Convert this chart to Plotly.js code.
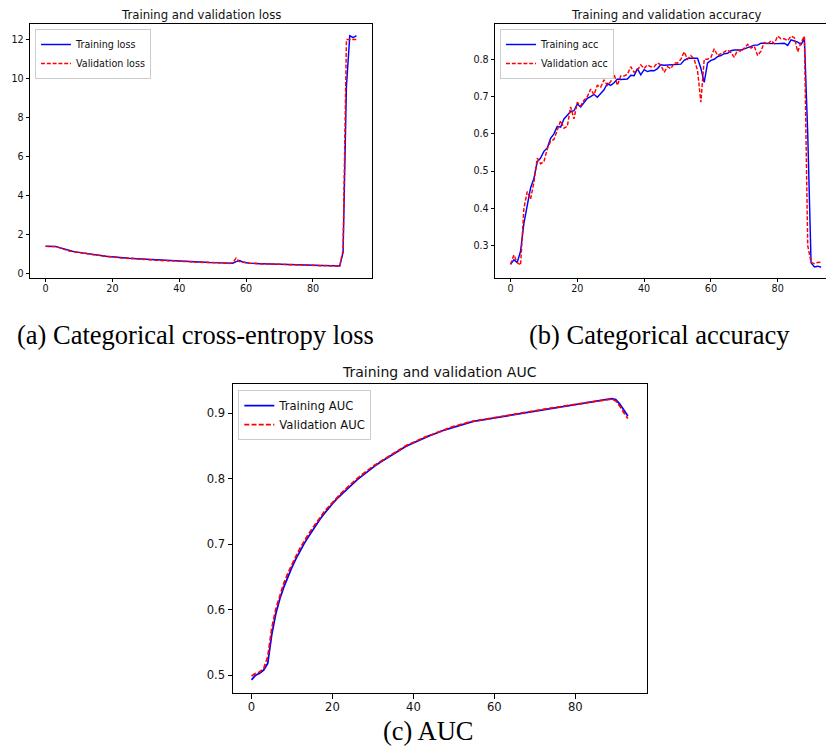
<!DOCTYPE html>
<html>
<head>
<meta charset="utf-8">
<script src="https://cdn.plot.ly/plotly-3.0.1.min.js"></script>
<style>html,body{margin:0;padding:0;background:#fff;}#chart{width:826px;height:747px;}</style>
</head>
<body>
<div id="chart"></div>
<script>
const epochs = [0,1,2,3,4,5,6,7,8,9,10,11,12,13,14,15,16,17,18,19,20,21,22,23,24,25,26,27,28,29,30,31,32,33,34,35,36,37,38,39,40,41,42,43,44,45,46,47,48,49,50,51,52,53,54,55,56,57,58,59,60,61,62,63,64,65,66,67,68,69,70,71,72,73,74,75,76,77,78,79,80,81,82,83,84,85,86,87,88,89,90,91,92,93];

const trainLoss = [1.386,1.385,1.384,1.375,1.330,1.270,1.210,1.170,1.130,1.100,
  1.070,1.050,1.020,0.990,0.960,0.940,0.920,0.900,0.880,0.860,
  0.845,0.830,0.815,0.800,0.785,0.775,0.765,0.755,0.745,0.725,
  0.715,0.705,0.695,0.685,0.675,0.665,0.655,0.645,0.635,0.630,
  0.620,0.610,0.605,0.600,0.590,0.580,0.575,0.570,0.560,0.555,
  0.550,0.545,0.535,0.530,0.525,0.520,0.520,0.600,0.660,0.580,
  0.530,0.520,0.510,0.505,0.500,0.490,0.485,0.480,0.475,0.470,
  0.465,0.460,0.455,0.450,0.445,0.440,0.435,0.430,0.425,0.420,
  0.415,0.410,0.405,0.400,0.395,0.390,0.385,0.380,0.375,1.070,
  9.600,12.200,12.100,12.200];
const valLoss = [1.383,1.382,1.383,1.370,1.320,1.250,1.220,1.150,1.140,1.080,
  1.080,1.030,1.030,0.980,0.970,0.930,0.930,0.880,0.890,0.850,
  0.850,0.820,0.820,0.780,0.790,0.760,0.770,0.740,0.740,0.710,
  0.720,0.690,0.700,0.670,0.680,0.650,0.660,0.630,0.650,0.620,
  0.630,0.600,0.610,0.590,0.600,0.570,0.590,0.560,0.570,0.550,
  0.560,0.540,0.550,0.520,0.530,0.500,0.550,0.780,0.600,0.560,
  0.520,0.510,0.520,0.500,0.510,0.480,0.490,0.470,0.480,0.460,
  0.470,0.450,0.460,0.440,0.460,0.430,0.440,0.420,0.410,0.420,
  0.400,0.410,0.390,0.380,0.400,0.380,0.400,0.380,0.370,1.200,
  12.000,12.000,12.000,12.000];

const trainAcc = [0.250,0.262,0.255,0.285,0.360,0.410,0.455,0.480,0.525,0.535,
  0.553,0.562,0.588,0.600,0.620,0.618,0.640,0.650,0.660,0.662,
  0.680,0.672,0.683,0.695,0.700,0.706,0.698,0.707,0.718,0.735,
  0.730,0.737,0.747,0.746,0.747,0.747,0.757,0.756,0.775,0.758,
  0.772,0.767,0.770,0.769,0.775,0.785,0.784,0.785,0.786,0.786,
  0.788,0.787,0.797,0.802,0.803,0.804,0.803,0.776,0.738,0.790,
  0.797,0.800,0.807,0.810,0.815,0.816,0.823,0.825,0.825,0.825,
  0.828,0.832,0.835,0.838,0.838,0.843,0.843,0.842,0.841,0.842,
  0.842,0.842,0.843,0.837,0.852,0.849,0.846,0.840,0.855,0.600,
  0.254,0.243,0.245,0.242];
const valAcc = [0.250,0.275,0.255,0.248,0.400,0.445,0.425,0.470,0.535,0.520,
  0.525,0.560,0.580,0.585,0.610,0.635,0.615,0.620,0.672,0.640,
  0.685,0.675,0.690,0.700,0.720,0.705,0.730,0.725,0.745,0.730,
  0.740,0.760,0.730,0.755,0.755,0.760,0.780,0.765,0.770,0.785,
  0.775,0.785,0.780,0.780,0.790,0.785,0.765,0.780,0.775,0.790,
  0.790,0.800,0.820,0.800,0.810,0.800,0.770,0.685,0.800,0.800,
  0.805,0.828,0.810,0.815,0.822,0.825,0.818,0.805,0.825,0.820,
  0.830,0.840,0.830,0.835,0.810,0.822,0.845,0.840,0.850,0.842,
  0.862,0.855,0.855,0.850,0.862,0.858,0.820,0.845,0.862,0.300,
  0.255,0.252,0.255,0.256];

const trainAUC = [0.493,0.500,0.503,0.508,0.518,0.562,0.594,0.617,0.635,0.651,
  0.665,0.678,0.690,0.701,0.711,0.721,0.730,0.739,0.747,0.755,
  0.762,0.769,0.775,0.781,0.787,0.793,0.798,0.803,0.808,0.813,
  0.818,0.822,0.826,0.830,0.834,0.838,0.842,0.845,0.849,0.852,
  0.855,0.858,0.861,0.863,0.866,0.868,0.871,0.873,0.875,0.877,
  0.879,0.881,0.883,0.885,0.887,0.888,0.889,0.890,0.891,0.892,
  0.893,0.894,0.895,0.896,0.897,0.898,0.900,0.901,0.902,0.903,
  0.904,0.905,0.906,0.907,0.908,0.909,0.910,0.911,0.912,0.913,
  0.914,0.915,0.916,0.917,0.918,0.919,0.920,0.921,0.922,0.9225,
  0.921,0.914,0.905,0.896];
const valAUC = [0.499,0.503,0.505,0.510,0.528,0.572,0.601,0.623,0.641,0.656,
  0.670,0.682,0.694,0.705,0.715,0.724,0.733,0.742,0.750,0.757,
  0.764,0.771,0.777,0.783,0.789,0.794,0.800,0.805,0.810,0.815,
  0.819,0.823,0.827,0.831,0.835,0.839,0.843,0.846,0.850,0.853,
  0.856,0.859,0.861,0.864,0.866,0.869,0.871,0.873,0.876,0.878,
  0.880,0.882,0.884,0.885,0.887,0.888,0.889,0.890,0.891,0.892,
  0.893,0.894,0.895,0.896,0.897,0.899,0.900,0.901,0.902,0.903,
  0.904,0.905,0.906,0.907,0.908,0.909,0.910,0.911,0.912,0.913,
  0.914,0.915,0.916,0.917,0.918,0.919,0.920,0.921,0.922,0.922,
  0.919,0.911,0.901,0.892];

const xTicks = [0,20,40,60,80];
const lossTicks = [0,2,4,6,8,10,12];
const accTicks = [0.3,0.4,0.5,0.6,0.7,0.8];
const aucTicks = [0.5,0.6,0.7,0.8,0.9];

const titles = ['Training and validation loss','Training and validation accuracy','Training and validation AUC'];
const captions = ['(a) Categorical cross-entropy loss','(b) Categorical accuracy','(c) AUC'];
const names = [['Training loss','Validation loss'],['Training acc','Validation acc'],['Training AUC','Validation AUC']];

const W = 826, H = 747;
const SANS = 'DejaVu Sans, sans-serif';
const SERIF = 'Liberation Serif, DejaVu Serif, serif';

function px(x){return x/W;}
function py(y){return 1 - y/H;}

const small = {lw:1.45, dash:'4px,1.8px', font:9.6, tl:3.4, so:-2};
const big = {lw:1.75, dash:'5px,2.2px', font:11.6, tl:4.2, so:-1};

function tr(x,y,name,color,dash,ax,legend,st){
  return {x:x,y:y,name:name,type:'scatter',mode:'lines',
    line:{color:color,width:st.lw,dash:dash?st.dash:'solid'},
    xaxis:ax[0],yaxis:ax[1],legend:legend,hoverinfo:'skip'};
}

const data = [
  tr(epochs,trainLoss,names[0][0],'#0000ff',false,['x','y'],'legend',small),
  tr(epochs,valLoss,names[0][1],'#ff0000',true,['x','y'],'legend',small),
  tr(epochs,trainAcc,names[1][0],'#0000ff',false,['x2','y2'],'legend2',small),
  tr(epochs,valAcc,names[1][1],'#ff0000',true,['x2','y2'],'legend2',small),
  tr(epochs,trainAUC,names[2][0],'#0000ff',false,['x3','y3'],'legend3',big),
  tr(epochs,valAUC,names[2][1],'#ff0000',true,['x3','y3'],'legend3',big)
];

function xa(domain,range,anchor,st){
  return {domain:domain,range:range,anchor:anchor,tickvals:xTicks,ticktext:xTicks.map(String),
    ticks:'outside',ticklen:st.tl,tickwidth:1,tickcolor:'#000',showline:true,linecolor:'#000',linewidth:1,
    ticklabelstandoff:st.so,
    mirror:true,showgrid:false,zeroline:false,tickfont:{family:SANS,size:st.font,color:'#111'}};
}
function ya(domain,range,anchor,vals,st,mirror,fmt){
  return {domain:domain,range:range,anchor:anchor,tickvals:vals,ticktext:vals.map(v=>fmt(v)),
    ticks:'outside',ticklen:st.tl,tickwidth:1,tickcolor:'#000',showline:true,linecolor:'#000',linewidth:1,
    mirror:mirror,showgrid:false,zeroline:false,tickfont:{family:SANS,size:st.font,color:'#111'}};
}

function legend(x,y,st){
  return {x:x,y:y,xanchor:'left',yanchor:'top',xref:'paper',yref:'paper',
    bgcolor:'rgba(255,255,255,0.85)',bordercolor:'#cccccc',borderwidth:1,
    font:{family:SANS,size:st.font,color:'#111'},itemwidth:30,tracegroupgap:0};
}

const layout = {
  width:W,height:H,margin:{l:0,r:0,t:0,b:0},
  paper_bgcolor:'#fff',plot_bgcolor:'#fff',
  xaxis:xa([px(30),px(372)],[-4.65,97.65],'y',small),
  yaxis:ya([py(278),py(24)],[-0.24,12.8],'x',lossTicks,small,true,v=>String(v)),
  xaxis2:xa([px(495),1],[-4.65,94.47],'y2',small),
  yaxis2:ya([py(278),py(24)],[0.2133,0.8946],'x2',accTicks,small,false,v=>v.toFixed(1)),
  xaxis3:xa([px(232.7),px(646.7)],[-4.65,97.65],'y3',big),
  yaxis3:ya([py(693.3),py(384.3)],[0.4725,0.9443],'x3',aucTicks,big,true,v=>v.toFixed(1)),
  legend:legend(px(35),py(29),small),
  legend2:legend(px(500),py(29),small),
  legend3:legend(px(238.3),py(390),big),
  showlegend:true,
  annotations:[
    {text:titles[0],x:px(201),y:py(15),xref:'paper',yref:'paper',showarrow:false,xanchor:'center',yanchor:'middle',font:{family:SANS,size:11.7,color:'#111'}},
    {text:titles[1],x:px(666),y:py(15),xref:'paper',yref:'paper',showarrow:false,xanchor:'center',yanchor:'middle',font:{family:SANS,size:11.7,color:'#111'}},
    {text:titles[2],x:px(439.7),y:py(372),xref:'paper',yref:'paper',showarrow:false,xanchor:'center',yanchor:'middle',font:{family:SANS,size:14,color:'#111'}},
    {text:captions[0],x:px(195.5),y:py(335),xref:'paper',yref:'paper',showarrow:false,xanchor:'center',yanchor:'middle',font:{family:SERIF,size:26.5,color:'#000'}},
    {text:captions[1],x:px(659.5),y:py(335),xref:'paper',yref:'paper',showarrow:false,xanchor:'center',yanchor:'middle',font:{family:SERIF,size:26.5,color:'#000'}},
    {text:captions[2],x:px(428),y:py(731),xref:'paper',yref:'paper',showarrow:false,xanchor:'center',yanchor:'middle',font:{family:SERIF,size:26.5,color:'#000'}}
  ]
};

Plotly.newPlot('chart',data,layout,{staticPlot:true,displayModeBar:false});
</script>
</body>
</html>
